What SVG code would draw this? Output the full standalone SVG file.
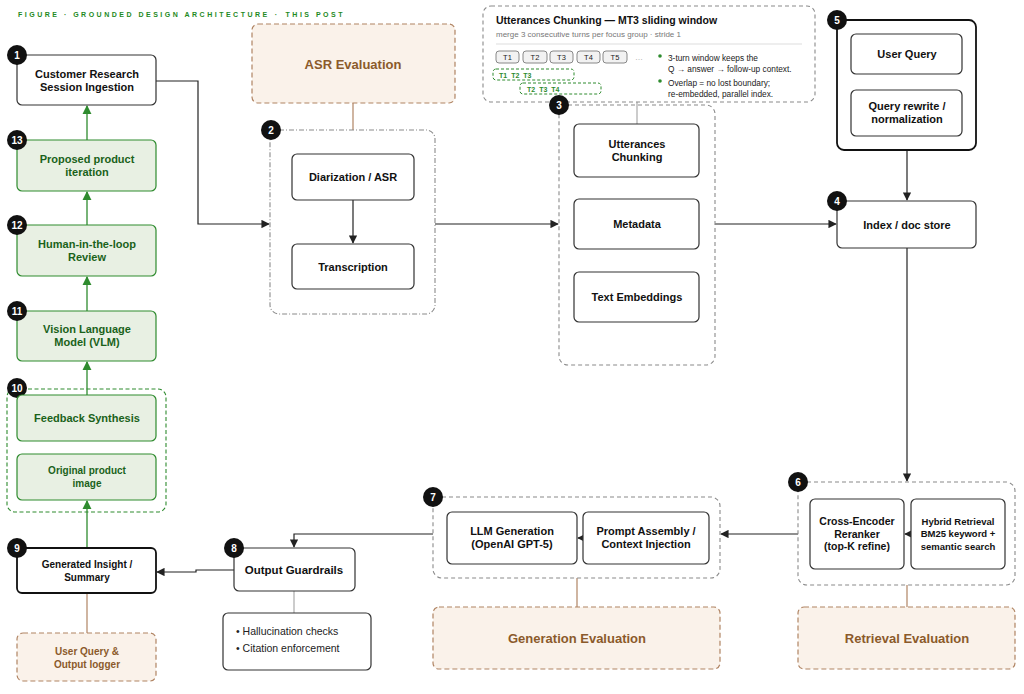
<svg xmlns="http://www.w3.org/2000/svg" width="1024" height="694" viewBox="0 0 1024 694">
<defs>
<marker id="ah" viewBox="0 0 10 10" refX="9" refY="5" markerWidth="7" markerHeight="7" orient="auto-start-reverse"><path d="M0,0 L10,5 L0,10 z" fill="#222"/></marker>
<marker id="ahg" viewBox="0 0 10 10" refX="9" refY="5" markerWidth="7" markerHeight="7" orient="auto-start-reverse"><path d="M0,0 L10,5 L0,10 z" fill="#2e8b2e"/></marker>
<style>
text{font-family:"Liberation Sans",Arial,sans-serif;}
.n{fill:#fff;stroke:#333;stroke-width:1.2;}
.nb{fill:#fff;stroke:#111;stroke-width:1.8;}
.g{fill:#e8f0e3;stroke:#2e8b2e;stroke-width:1.2;}
.ev{fill:#faf2ea;stroke:#b08463;stroke-width:1.2;stroke-dasharray:5 3;}
.cd{fill:none;stroke:#8a8a8a;stroke-width:1.1;stroke-dasharray:4 3;}
.cdd{fill:none;stroke:#8a8a8a;stroke-width:1.1;stroke-dasharray:5 2 1 2;}
.lb{font-size:11px;font-weight:bold;fill:#111;text-anchor:middle;}
.lg{font-size:11px;font-weight:bold;fill:#1a621a;text-anchor:middle;}
.le{font-size:13px;font-weight:bold;fill:#8b5a2b;text-anchor:middle;}
.bd{fill:#111;}
.bt{font-size:10px;font-weight:bold;fill:#fff;text-anchor:middle;}
.c{fill:none;stroke:#222;stroke-width:1.2;}
.cg{fill:none;stroke:#2e8b2e;stroke-width:1.3;}
.cb{fill:none;stroke:#b08463;stroke-width:1.2;}
.cgr{fill:none;stroke:#aaa;stroke-width:1.2;}
.sm{font-size:8.3px;fill:#222;}
.tb{fill:#f2f2f2;stroke:#888;stroke-width:1;}
.tt{font-size:7.5px;fill:#222;text-anchor:middle;}
.gw{fill:none;stroke:#2e8b2e;stroke-width:1;stroke-dasharray:3 2;}
.gt{font-size:7px;font-weight:bold;fill:#2e8b2e;}
</style>
</defs>
<rect width="1024" height="694" fill="#fff"/>
<text x="18" y="17" style="font-size:7px;font-weight:bold;fill:#1e8a1e;letter-spacing:2.5px;">FIGURE · GROUNDED DESIGN ARCHITECTURE<tspan dx="5">·</tspan><tspan dx="6">THIS POST</tspan></text>

<g id="connectors">
<path class="c" d="M156,81 H198 V224 H269" marker-end="url(#ah)"/>
<path class="cb" d="M353,103 V130"/>
<path class="c" d="M353,200 V243" marker-end="url(#ah)"/>
<path class="c" d="M435,224 H558" marker-end="url(#ah)"/>
<path class="cgr" d="M637,102 V124"/>
<path class="c" d="M715,224 H836" marker-end="url(#ah)"/>
<path class="c" d="M907,74 V89" marker-end="url(#ah)"/>
<path class="c" d="M907,150 V200" marker-end="url(#ah)"/>
<path class="c" d="M907,248 V481" marker-end="url(#ah)"/>
<path class="c" d="M911,534 H905" marker-end="url(#ah)"/>
<path class="cb" d="M907,585 V607"/>
<path class="c" d="M798,534 H721" marker-end="url(#ah)"/>
<path class="c" d="M583,538 H578" marker-end="url(#ah)"/>
<path class="cb" d="M577,578 V607"/>
<path class="c" d="M433,534 H294 V547" marker-end="url(#ah)"/>
<path class="cgr" d="M294,591 V613"/>
<path class="c" d="M234,570 H196 V572 H157" marker-end="url(#ah)"/>
<path class="cb" d="M87,593 V633"/>
<path class="cg" d="M87,548 V501" marker-end="url(#ahg)"/>
<path class="cg" d="M87,395 V362" marker-end="url(#ahg)"/>
<path class="cg" d="M87,311 V277" marker-end="url(#ahg)"/>
<path class="cg" d="M87,225 V192" marker-end="url(#ahg)"/>
<path class="cg" d="M87,140 V106" marker-end="url(#ahg)"/>
</g>

<g id="n1">
<rect class="n" x="17" y="55" width="139" height="50" rx="5"/>
<text class="lb" x="87" y="78">Customer Research</text>
<text class="lb" x="87" y="91">Session Ingestion</text>
<circle class="bd" cx="17" cy="55" r="10"/><text class="bt" x="17" y="59">1</text>
</g>

<g id="asr-eval">
<rect class="ev" x="252" y="24" width="203" height="79" rx="6"/>
<text class="le" x="353" y="69">ASR Evaluation</text>
</g>

<g id="n2">
<rect class="cdd" x="270" y="130" width="165" height="184" rx="9"/>
<circle class="bd" cx="271" cy="130" r="10"/><text class="bt" x="271" y="134">2</text>
</g>
<g id="diarization">
<rect class="n" x="292" y="154" width="122" height="46" rx="5"/>
<text class="lb" x="353" y="181">Diarization / ASR</text>
</g>
<g id="transcription">
<rect class="n" x="292" y="244" width="122" height="45" rx="5"/>
<text class="lb" x="353" y="271">Transcription</text>
</g>

<g id="mt3">
<rect class="cd" x="483" y="6" width="332" height="96" rx="8"/>
<text x="496" y="24" style="font-size:10.5px;font-weight:bold;fill:#111;">Utterances Chunking — MT3 sliding window</text>
<text x="496" y="37" style="font-size:8px;fill:#777;">merge 3 consecutive turns per focus group · stride 1</text>
<line x1="496" y1="44" x2="802" y2="44" stroke="#ddd" stroke-width="1"/>
<rect class="tb" x="496" y="51" width="23" height="12" rx="3"/><text class="tt" x="507.5" y="60">T1</text>
<rect class="tb" x="523" y="51" width="24" height="12" rx="3"/><text class="tt" x="535" y="60">T2</text>
<rect class="tb" x="550" y="51" width="23" height="12" rx="3"/><text class="tt" x="561.5" y="60">T3</text>
<rect class="tb" x="577" y="51" width="23" height="12" rx="3"/><text class="tt" x="588.5" y="60">T4</text>
<rect class="tb" x="603" y="51" width="24" height="12" rx="3"/><text class="tt" x="615" y="60">T5</text>
<text x="635" y="60" style="font-size:8px;fill:#999;">…</text>
<rect class="gw" x="493" y="69" width="81" height="11" rx="3"/>
<text class="gt" x="499" y="77.5">T1<tspan dx="4">T2</tspan><tspan dx="4">T3</tspan></text>
<rect class="gw" x="520" y="83" width="81" height="11" rx="3"/>
<text class="gt" x="527" y="91.5">T2<tspan dx="4">T3</tspan><tspan dx="4">T4</tspan></text>
<circle cx="660" cy="56" r="1.8" fill="#2e8b2e"/>
<text class="sm" x="668" y="61">3-turn window keeps the</text>
<text class="sm" x="668" y="72">Q → answer → follow-up context.</text>
<circle cx="660" cy="81" r="1.8" fill="#2e8b2e"/>
<text class="sm" x="668" y="86">Overlap = no lost boundary;</text>
<text class="sm" x="668" y="97">re-embedded, parallel index.</text>
</g>

<g id="n3">
<rect class="cd" x="559" y="105" width="156" height="260" rx="9"/>
<circle class="bd" cx="559" cy="105" r="10"/><text class="bt" x="559" y="109">3</text>
</g>
<g id="chunking">
<rect class="n" x="574" y="124" width="125" height="53" rx="5"/>
<text class="lb" x="637" y="148">Utterances</text>
<text class="lb" x="637" y="161">Chunking</text>
</g>
<g id="metadata">
<rect class="n" x="574" y="199" width="125" height="50" rx="5"/>
<text class="lb" x="637" y="228">Metadata</text>
</g>
<g id="embeddings">
<rect class="n" x="574" y="272" width="125" height="50" rx="5"/>
<text class="lb" x="637" y="301">Text Embeddings</text>
</g>

<g id="n5">
<rect class="nb" x="837" y="20" width="139" height="130" rx="7"/>
<circle class="bd" cx="837" cy="20" r="10"/><text class="bt" x="837" y="24">5</text>
</g>
<g id="user-query">
<rect class="n" x="851" y="34" width="111" height="40" rx="5"/>
<text class="lb" x="907" y="58">User Query</text>
</g>
<g id="rewrite">
<rect class="n" x="851" y="90" width="111" height="46" rx="5"/>
<text class="lb" x="907" y="110">Query rewrite /</text>
<text class="lb" x="907" y="123">normalization</text>
</g>

<g id="n4">
<rect class="n" x="837" y="201" width="139" height="47" rx="5"/>
<text class="lb" x="907" y="229">Index / doc store</text>
<circle class="bd" cx="837" cy="201" r="10"/><text class="bt" x="837" y="205">4</text>
</g>

<g id="n6">
<rect class="cd" x="798" y="482" width="217" height="103" rx="9"/>
<circle class="bd" cx="798" cy="482" r="10"/><text class="bt" x="798" y="486">6</text>
</g>
<g id="reranker">
<rect class="n" x="810" y="499" width="94" height="70" rx="5"/>
<text class="lb" x="857" y="525" style="font-size:10.5px">Cross-Encoder</text>
<text class="lb" x="857" y="538" style="font-size:10.5px">Reranker</text>
<text class="lb" x="857" y="550" style="font-size:10.5px">(top-K refine)</text>
</g>
<g id="hybrid">
<rect class="n" x="911" y="499" width="94" height="70" rx="5"/>
<text class="lb" x="958" y="525" style="font-size:9.5px">Hybrid Retrieval</text>
<text class="lb" x="958" y="537" style="font-size:9.5px">BM25 keyword +</text>
<text class="lb" x="958" y="550" style="font-size:9.5px">semantic search</text>
</g>
<g id="retrieval-eval">
<rect class="ev" x="798" y="607" width="217" height="62" rx="6"/>
<text class="le" x="907" y="643">Retrieval Evaluation</text>
</g>

<g id="n7">
<rect class="cd" x="433" y="497" width="287" height="81" rx="9"/>
<circle class="bd" cx="433" cy="497" r="10"/><text class="bt" x="433" y="501">7</text>
</g>
<g id="llm">
<rect class="n" x="447" y="512" width="130" height="52" rx="5"/>
<text class="lb" x="512" y="535">LLM Generation</text>
<text class="lb" x="512" y="548">(OpenAI GPT-5)</text>
</g>
<g id="prompt">
<rect class="n" x="583" y="512" width="126" height="52" rx="5"/>
<text class="lb" x="646" y="535">Prompt Assembly /</text>
<text class="lb" x="646" y="548">Context Injection</text>
</g>
<g id="generation-eval">
<rect class="ev" x="433" y="607" width="287" height="62" rx="6"/>
<text class="le" x="577" y="643">Generation Evaluation</text>
</g>

<g id="n8">
<rect class="n" x="234" y="548" width="121" height="43" rx="5"/>
<text class="lb" x="294" y="574" style="font-size:11.5px">Output Guardrails</text>
<circle class="bd" cx="234" cy="548" r="10"/><text class="bt" x="234" y="552">8</text>
</g>
<g id="guardrail-list">
<rect class="n" x="223" y="613" width="148" height="57" rx="5"/>
<text x="236" y="635" style="font-size:10.5px;fill:#222;">• Hallucination checks</text>
<text x="236" y="652" style="font-size:10.5px;fill:#222;">• Citation enforcement</text>
</g>

<g id="n9">
<rect class="nb" x="17" y="548" width="139" height="45" rx="5"/>
<text class="lb" x="87" y="568" style="font-size:10px">Generated Insight /</text>
<text class="lb" x="87" y="581" style="font-size:10px">Summary</text>
<circle class="bd" cx="17" cy="548" r="10"/><text class="bt" x="17" y="552">9</text>
</g>
<g id="logger">
<rect class="ev" x="17" y="633" width="139" height="48" rx="6"/>
<text class="le" x="87" y="655" style="font-size:10px">User Query &amp;</text>
<text class="le" x="87" y="668" style="font-size:10px">Output logger</text>
</g>

<g id="n10">
<rect class="gw" x="7" y="389" width="159" height="123" rx="8" style="stroke-width:1.1;stroke-dasharray:4 2.5"/>
<circle class="bd" cx="17" cy="388" r="10"/><text class="bt" x="17" y="392">10</text>
</g>
<g id="feedback">
<rect class="g" x="17" y="395" width="139" height="46" rx="5"/>
<text class="lg" x="87" y="422">Feedback Synthesis</text>
</g>
<g id="original-image">
<rect class="g" x="17" y="454" width="139" height="46" rx="5"/>
<text class="lg" x="87" y="474" style="font-size:10px">Original product</text>
<text class="lg" x="87" y="487" style="font-size:10px">image</text>
</g>
<g id="n11">
<rect class="g" x="17" y="311" width="139" height="50" rx="5"/>
<text class="lg" x="87" y="333">Vision Language</text>
<text class="lg" x="87" y="346">Model (VLM)</text>
<circle class="bd" cx="17" cy="311" r="10"/><text class="bt" x="17" y="315">11</text>
</g>
<g id="n12">
<rect class="g" x="17" y="225" width="139" height="51" rx="5"/>
<text class="lg" x="87" y="248">Human-in-the-loop</text>
<text class="lg" x="87" y="261">Review</text>
<circle class="bd" cx="17" cy="225" r="10"/><text class="bt" x="17" y="229">12</text>
</g>
<g id="n13">
<rect class="g" x="17" y="140" width="139" height="51" rx="5"/>
<text class="lg" x="87" y="163">Proposed product</text>
<text class="lg" x="87" y="176">iteration</text>
<circle class="bd" cx="17" cy="140" r="10"/><text class="bt" x="17" y="144">13</text>
</g>
</svg>
